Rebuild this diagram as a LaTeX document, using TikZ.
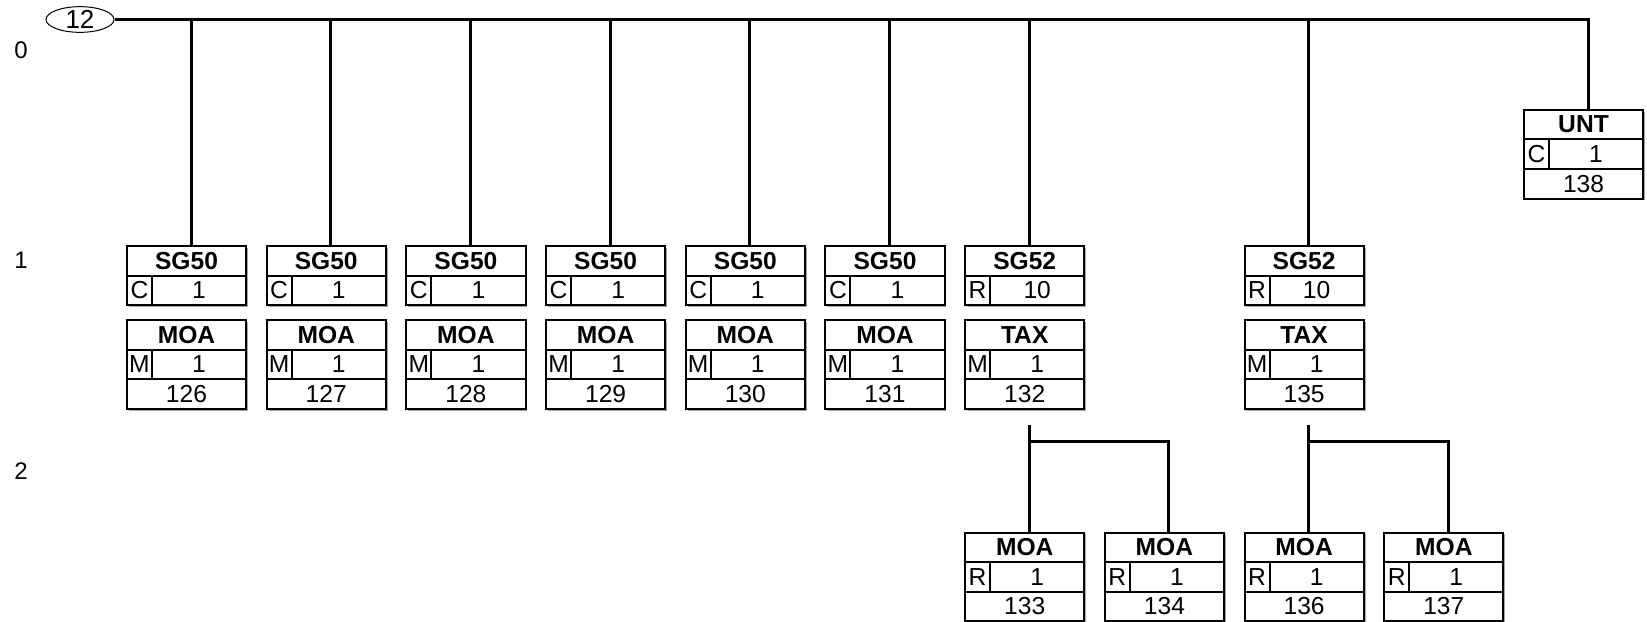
\documentclass[tikz,border=0pt]{standalone}
\usepackage{fontspec}
\setmainfont{Liberation Sans}
\usetikzlibrary{positioning,shapes.geometric,shadows}

% status/repeat row and position row under a head node
\newcommand{\segrow}[3]{%
  \node [cell,stat,below right=0pt and 0pt of #1.south west] (#1s) {#2};
  \node [cell,rep,right=0pt of #1s] (#1r) {#3};}
\newcommand{\segpos}[2]{%
  \node [cell,below right=0pt and 0pt of #1s.south west] (#1n) {#2};}

\begin{document}
\begin{tikzpicture}[
  x=0.5pt,y=-0.5pt,
  cell/.style={rectangle,draw,line width=1pt,fill=white,inner sep=0pt,outer sep=0pt,
    minimum width=59.6pt,minimum height=14.8pt,font=\fontsize{12.3}{14}\selectfont,
    drop shadow={shadow xshift=0.9pt,shadow yshift=-0.9pt,fill=black!35,opacity=1}},
  head/.style={cell,font=\fontsize{12.3}{14}\selectfont\bfseries},
  stat/.style={minimum width=12.5pt},
  rep/.style={minimum width=47.1pt},
  link/.style={line width=1.5pt},
  lvl/.style={font=\fontsize{12}{14}\selectfont},
  node distance=10.25pt
]
  \useasboundingbox (0,0) rectangle (1647,621);

  % level numbers
  \node [lvl] (lv0) at (21,50) {0};
  \node [lvl] (lv1) at (21,260) {1};
  \node [lvl] (lv2) at (21,471) {2};

  % root
  \node [ellipse,draw,line width=0.5pt,minimum width=34pt,minimum height=12.5pt,inner sep=0pt,
    font=\fontsize{13}{15}\selectfont] (top) at (80,19.5) {12};

  % level 1 groups
  \node [head] (sg126) at (186.5,260.7) {SG50}; \segrow{sg126}{C}{1}
  \node [head,right=of sg126] (sg127) {SG50}; \segrow{sg127}{C}{1}
  \node [head,right=of sg127] (sg128) {SG50}; \segrow{sg128}{C}{1}
  \node [head,right=of sg128] (sg129) {SG50}; \segrow{sg129}{C}{1}
  \node [head,right=of sg129] (sg130) {SG50}; \segrow{sg130}{C}{1}
  \node [head,right=of sg130] (sg131) {SG50}; \segrow{sg131}{C}{1}
  \node [head,right=of sg131] (sg132) {SG52}; \segrow{sg132}{R}{10}
  \node [head,right=80.1pt of sg132] (sg135) {SG52}; \segrow{sg135}{R}{10}

  % trigger segments
  \node [head,below right=7.4pt and 0pt of sg126s.south west] (moa126) {MOA}; \segrow{moa126}{M}{1} \segpos{moa126}{126}
  \node [head,below right=7.4pt and 0pt of sg127s.south west] (moa127) {MOA}; \segrow{moa127}{M}{1} \segpos{moa127}{127}
  \node [head,below right=7.4pt and 0pt of sg128s.south west] (moa128) {MOA}; \segrow{moa128}{M}{1} \segpos{moa128}{128}
  \node [head,below right=7.4pt and 0pt of sg129s.south west] (moa129) {MOA}; \segrow{moa129}{M}{1} \segpos{moa129}{129}
  \node [head,below right=7.4pt and 0pt of sg130s.south west] (moa130) {MOA}; \segrow{moa130}{M}{1} \segpos{moa130}{130}
  \node [head,below right=7.4pt and 0pt of sg131s.south west] (moa131) {MOA}; \segrow{moa131}{M}{1} \segpos{moa131}{131}
  \node [head,below right=7.4pt and 0pt of sg132s.south west] (tax132) {TAX}; \segrow{tax132}{M}{1} \segpos{tax132}{132}
  \node [head,below right=7.4pt and 0pt of sg135s.south west] (tax135) {TAX}; \segrow{tax135}{M}{1} \segpos{tax135}{135}

  % level 2
  \node [head,below right=61.9pt and 0pt of tax132n.south west] (moa133) {MOA}; \segrow{moa133}{R}{1} \segpos{moa133}{133}
  \node [head,right=of moa133] (moa134) {MOA}; \segrow{moa134}{R}{1} \segpos{moa134}{134}
  \node [head,below right=61.9pt and 0pt of tax135n.south west] (moa136) {MOA}; \segrow{moa136}{R}{1} \segpos{moa136}{136}
  \node [head,right=of moa136] (moa137) {MOA}; \segrow{moa137}{R}{1} \segpos{moa137}{137}

  % end segment
  \node [head] (unt138) at (1583.5,124.6) {UNT}; \segrow{unt138}{C}{1} \segpos{unt138}{138}

  % connectors
  \draw [link] (top.east) -| ([xshift=2.25pt]unt138.north);
  \draw [link] ([xshift=2.25pt]sg126.north) -- ([xshift=2.25pt]sg126.north |- top.east);
  \draw [link] ([xshift=2.25pt]sg127.north) -- ([xshift=2.25pt]sg127.north |- top.east);
  \draw [link] ([xshift=2.25pt]sg128.north) -- ([xshift=2.25pt]sg128.north |- top.east);
  \draw [link] ([xshift=2.25pt]sg129.north) -- ([xshift=2.25pt]sg129.north |- top.east);
  \draw [link] ([xshift=2.25pt]sg130.north) -- ([xshift=2.25pt]sg130.north |- top.east);
  \draw [link] ([xshift=2.25pt]sg131.north) -- ([xshift=2.25pt]sg131.north |- top.east);
  \draw [link] ([xshift=2.25pt]sg132.north) -- ([xshift=2.25pt]sg132.north |- top.east);
  \draw [link] ([xshift=2.25pt]sg135.north) -- ([xshift=2.25pt]sg135.north |- top.east);

  \coordinate [below=8pt of tax132n,xshift=2.25pt] (b132);
  \draw [link] (b132) -- (b132 |- moa133.north);
  \draw [link] ([yshift=-8.3pt]b132) -| ([xshift=2.25pt]moa134.north);
  \coordinate [below=8pt of tax135n,xshift=2.25pt] (b135);
  \draw [link] (b135) -- (b135 |- moa136.north);
  \draw [link] ([yshift=-8.3pt]b135) -| ([xshift=2.25pt]moa137.north);
\end{tikzpicture}
\end{document}
